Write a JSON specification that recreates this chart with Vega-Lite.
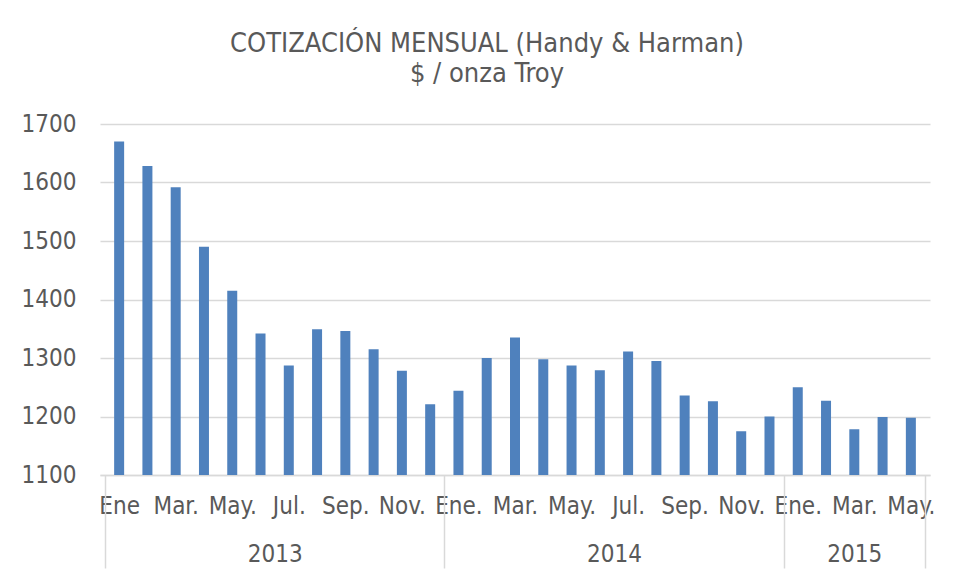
{
  "$schema": "https://vega.github.io/schema/vega-lite/v6.json",
  "width": 830,
  "height": 351,
  "autosize": "none",
  "padding": {"left": 100, "top": 124, "right": 26, "bottom": 104},
  "background": "white",
  "config": {"view": {"stroke": null}, "font": "DejaVu Sans Condensed, DejaVu Sans"},
  "title": {
    "text": ["COTIZACIÓN MENSUAL (Handy & Harman)", "$ / onza Troy"],
    "fontSize": 27,
    "fontWeight": "normal",
    "font": "DejaVu Sans Condensed, DejaVu Sans",
    "color": "#595959",
    "anchor": "middle",
    "frame": "group",
    "dx": -28,
    "offset": 24,
    "lineHeight": 30
  },
  "data": {
    "values": [
      {"idx": 1, "year": 2013, "month": "Ene", "value": 1670},
      {"idx": 2, "year": 2013, "month": "Feb", "value": 1628},
      {"idx": 3, "year": 2013, "month": "Mar", "value": 1592},
      {"idx": 4, "year": 2013, "month": "Abr", "value": 1490},
      {"idx": 5, "year": 2013, "month": "May", "value": 1415},
      {"idx": 6, "year": 2013, "month": "Jun", "value": 1342},
      {"idx": 7, "year": 2013, "month": "Jul", "value": 1287},
      {"idx": 8, "year": 2013, "month": "Ago", "value": 1349},
      {"idx": 9, "year": 2013, "month": "Sep", "value": 1346},
      {"idx": 10, "year": 2013, "month": "Oct", "value": 1315},
      {"idx": 11, "year": 2013, "month": "Nov", "value": 1278},
      {"idx": 12, "year": 2013, "month": "Dic", "value": 1221},
      {"idx": 13, "year": 2014, "month": "Ene", "value": 1244},
      {"idx": 14, "year": 2014, "month": "Feb", "value": 1300},
      {"idx": 15, "year": 2014, "month": "Mar", "value": 1335},
      {"idx": 16, "year": 2014, "month": "Abr", "value": 1298},
      {"idx": 17, "year": 2014, "month": "May", "value": 1287},
      {"idx": 18, "year": 2014, "month": "Jun", "value": 1279},
      {"idx": 19, "year": 2014, "month": "Jul", "value": 1311},
      {"idx": 20, "year": 2014, "month": "Ago", "value": 1295},
      {"idx": 21, "year": 2014, "month": "Sep", "value": 1236},
      {"idx": 22, "year": 2014, "month": "Oct", "value": 1226},
      {"idx": 23, "year": 2014, "month": "Nov", "value": 1175},
      {"idx": 24, "year": 2014, "month": "Dic", "value": 1200},
      {"idx": 25, "year": 2015, "month": "Ene", "value": 1250},
      {"idx": 26, "year": 2015, "month": "Feb", "value": 1227},
      {"idx": 27, "year": 2015, "month": "Mar", "value": 1178},
      {"idx": 28, "year": 2015, "month": "Abr", "value": 1199},
      {"idx": 29, "year": 2015, "month": "May", "value": 1198}
    ]
  },
  "resolve": {"axis": {"x": "independent"}},
  "layer": [
    {
      "mark": {"type": "bar", "size": 10, "color": "#4f81bd", "clip": true},
      "encoding": {
        "x": {
          "field": "idx",
          "type": "quantitative",
          "scale": {"domain": [0.5, 29.5], "nice": false, "zero": false},
          "axis": {
            "orient": "bottom",
            "title": null,
            "values": [1, 3, 5, 7, 9, 11, 13, 15, 17, 19, 21, 23, 25, 27, 29],
            "labelExpr": "['Ene','Mar.','May.','Jul.','Sep.','Nov.','Ene.','Mar.','May.','Jul.','Sep.','Nov.','Ene.','Mar.','May.'][(datum.value-1)/2]",
            "ticks": false,
            "grid": false,
            "domainColor": "#d9d9d9",
            "domainWidth": 1.5,
            "labelFontSize": 24,
            "labelColor": "#595959",
            "labelPadding": 19,
            "labelFlush": false,
            "labelOverlap": false,
            "labelBound": false
          }
        },
        "y": {
          "field": "value",
          "type": "quantitative",
          "scale": {"domain": [1100, 1700], "nice": false, "zero": false},
          "axis": {
            "title": null,
            "values": [1100, 1200, 1300, 1400, 1500, 1600, 1700],
            "format": "d",
            "domain": false,
            "ticks": false,
            "gridColor": "#d9d9d9",
            "gridWidth": 1.5,
            "labelFontSize": 24,
            "labelColor": "#595959",
            "labelPadding": 24,
            "labelFlush": false
          }
        }
      }
    },
    {
      "mark": {"type": "point", "opacity": 0},
      "encoding": {
        "x": {
          "field": "idx",
          "type": "quantitative",
          "axis": {
            "orient": "bottom",
            "title": null,
            "values": [0.5, 6.5, 12.5, 18.5, 24.5, 27, 29.5],
            "labelExpr": "datum.value == 6.5 ? '2013' : datum.value == 18.5 ? '2014' : datum.value == 27 ? '2015' : ''",
            "domain": false,
            "grid": false,
            "tickSize": 93,
            "tickColor": "#d9d9d9",
            "tickWidth": 1.5,
            "tickOpacity": {"condition": {"test": "datum.value == 6.5 || datum.value == 18.5 || datum.value == 27", "value": 0}, "value": 1},
            "labelFontSize": 24,
            "labelColor": "#595959",
            "labelPadding": -26,
            "labelFlush": false,
            "labelOverlap": false,
            "labelBound": false
          }
        },
        "y": {"field": "value", "type": "quantitative"}
      }
    }
  ]
}
